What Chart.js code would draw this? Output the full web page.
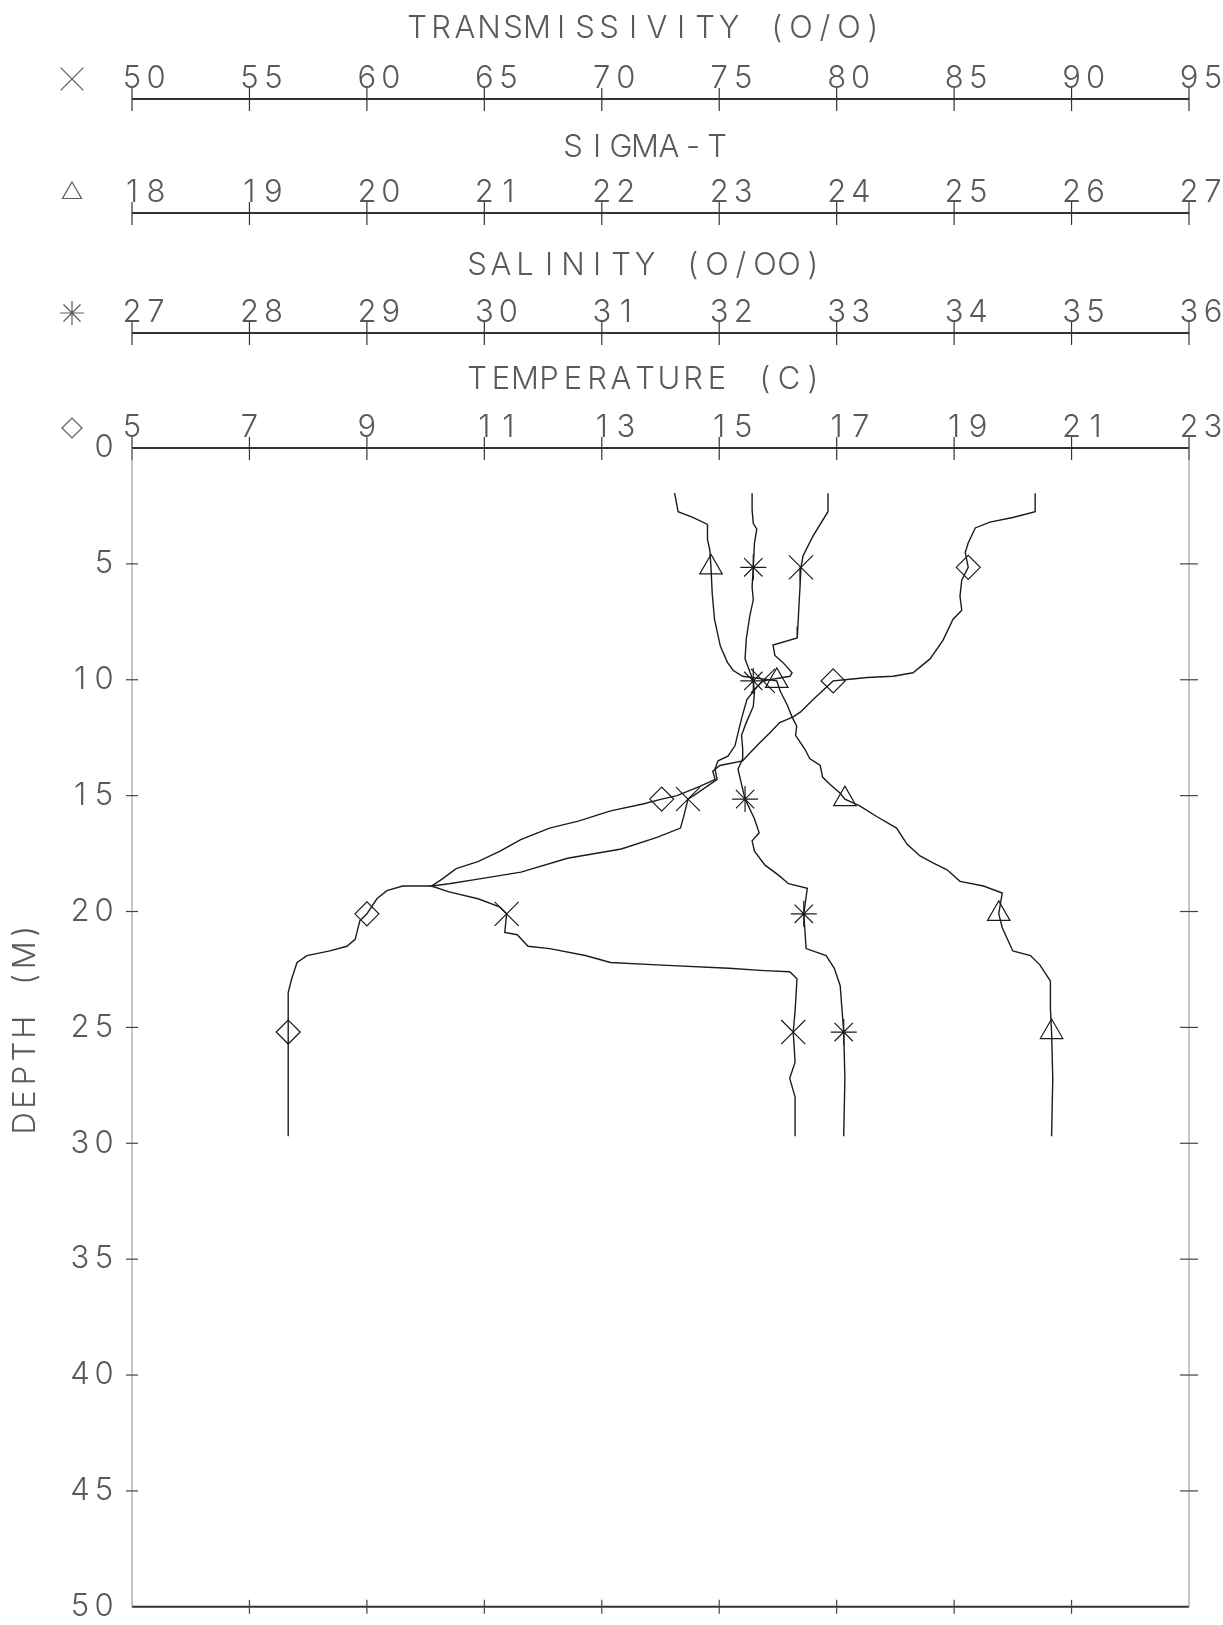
<!DOCTYPE html>
<html>
<head>
<meta charset="utf-8" />
<script src="https://cdn.jsdelivr.net/npm/chart.js"></script>
<style>
  body { margin: 0; background: #fff; }
  canvas { display: block; }
</style>
</head>
<body>
<canvas id="ctdChart" width="1223" height="1625"></canvas>
<script>
// tick values of the four stacked top scales and the depth scale
const transTicks = [50, 55, 60, 65, 70, 75, 80, 85, 90, 95];
const sigmaTicks = [18, 19, 20, 21, 22, 23, 24, 25, 26, 27];
const salTicks = [27, 28, 29, 30, 31, 32, 33, 34, 35, 36];
const tempTicks = [5, 7, 9, 11, 13, 15, 17, 19, 21, 23];
const depthTicks = [0, 5, 10, 15, 20, 25, 30, 35, 40, 45, 50];

// depths where the plotter put a symbol
const markDepth = [5.15, 10.05, 15.15, 20.1, 25.2];

// temperature (C)
const tempDepth = [1.95, 2.75, 3.0, 3.2, 3.45, 4.1, 4.5, 5.15, 5.7, 6.4, 7.0, 7.4, 8.3, 9.1, 9.7, 9.85, 9.9, 10.0, 10.05,
  10.85, 11.4, 11.6, 11.85, 12.3, 12.85, 13.3, 13.5, 13.7, 13.95, 14.3, 14.6, 15.0, 15.15, 15.36, 15.66, 16.1, 16.4,
  16.9, 17.4, 17.85, 18.15, 18.6, 18.9, 18.9, 19.1, 19.45, 20.1, 20.4, 21.2, 21.5, 21.7, 21.9, 22.2, 22.9, 23.5, 25.2, 29.7];
const tempVal = [20.38, 20.38, 20.0, 19.61, 19.36, 19.24, 19.19, 19.24, 19.13, 19.10, 19.13, 18.98, 18.81, 18.59, 18.30, 17.96, 17.52, 17.14, 16.94,
  16.60, 16.38, 16.26, 16.03, 15.86, 15.64, 15.47, 15.40, 15.01, 14.89, 14.93, 14.67, 14.28, 14.02, 13.70, 13.15, 12.60, 12.11,
  11.62, 11.26, 10.89, 10.52, 10.28, 10.10, 9.61, 9.34, 9.17, 9.00, 8.88, 8.80, 8.66, 8.37, 7.98, 7.81, 7.72, 7.66, 7.66, 7.66];
const tempMarks = [19.24, 16.94, 14.02, 9.00, 7.66];

// transmissivity (%)
const transDepth = [1.95, 2.75, 3.8, 4.65, 5.15, 6.0, 6.7, 7.7, 8.2, 8.5, 8.95, 9.25, 9.7, 9.85, 10.05, 10.3, 10.85, 11.6,
  12.3, 12.85, 13.3, 13.5, 13.85, 14.3, 14.6, 14.9, 15.15, 15.85, 16.4, 16.8, 17.3, 17.7, 18.3, 18.6, 18.8, 18.9, 19.15,
  19.45, 19.8, 20.1, 20.9, 21.0, 21.5, 21.6, 21.9, 22.2, 22.3, 22.45, 22.55, 22.6, 22.9, 24.3, 25.2, 26.5, 27.2, 28.0, 29.7];
const transVal = [79.63, 79.63, 78.99, 78.57, 78.48, 78.44, 78.40, 78.35, 78.32, 77.29, 77.37, 77.71, 78.10, 78.01, 76.86, 76.61, 76.18, 75.97,
  75.80, 75.67, 75.37, 74.95, 74.82, 74.91, 74.48, 74.05, 73.67, 73.50, 73.35, 72.35, 70.83, 68.54, 66.56, 64.73, 63.50, 62.74, 63.50,
  64.73, 65.65, 65.95, 65.87, 66.40, 66.86, 67.78, 69.30, 70.37, 72.35, 75.41, 76.93, 78.00, 78.31, 78.23, 78.15, 78.23, 78.00, 78.23, 78.23];
const transMarks = [78.48, 76.86, 73.67, 65.95, 78.15];

// salinity (o/oo)
const salDepth = [1.95, 2.67, 3.25, 3.5, 4.1, 5.15, 6.0, 6.55, 7.25, 8.25, 9.1, 10.05, 10.55, 11.15, 11.85, 12.4, 13.0, 13.4,
  13.85, 14.3, 15.15, 16.0, 16.6, 16.95, 17.4, 18.0, 18.45, 18.8, 19.0, 20.1, 21.6, 21.9, 22.45, 23.2, 25.2, 27.2, 29.7];
const salVal = [32.28, 32.28, 32.29, 32.32, 32.30, 32.29, 32.28, 32.29, 32.26, 32.23, 32.22, 32.29, 32.30, 32.29, 32.23, 32.19, 32.20, 32.20,
  32.16, 32.18, 32.22, 32.30, 32.34, 32.28, 32.30, 32.39, 32.51, 32.59, 32.75, 32.72, 32.74, 32.91, 32.98, 33.03, 33.06, 33.07, 33.06];
const salMarks = [32.29, 32.29, 32.22, 32.72, 33.06];

// sigma-t
const sigmaDepth = [1.95, 2.75, 3.0, 3.3, 3.96, 4.4, 5.15, 6.25, 7.4, 8.56, 9.25, 9.6, 9.85, 10.05, 10.5, 11.1, 11.6, 12.0,
  12.4, 12.7, 13.0, 13.4, 13.7, 14.2, 14.5, 14.9, 15.15, 15.45, 15.9, 16.4, 17.1, 17.6, 17.9, 18.2, 18.7, 18.9, 19.2,
  20.1, 20.7, 21.7, 21.9, 22.3, 23.0, 24.2, 25.2, 27.2, 29.7];
const sigmaVal = [22.62, 22.65, 22.78, 22.90, 22.90, 22.92, 22.93, 22.94, 22.96, 23.01, 23.07, 23.12, 23.20, 23.49, 23.52, 23.58, 23.62, 23.66,
  23.65, 23.69, 23.73, 23.77, 23.86, 23.88, 23.94, 24.03, 24.07, 24.20, 24.34, 24.51, 24.60, 24.71, 24.82, 24.94, 25.05, 25.25, 25.41,
  25.38, 25.41, 25.50, 25.65, 25.73, 25.82, 25.82, 25.83, 25.84, 25.83];
const sigmaMarks = [22.93, 23.49, 24.07, 25.38, 25.83];

const INK = "#1c1c1c";
const TEXT = "#5a5a5a";
const FONT = '300 31px Inter, "DejaVu Sans", sans-serif';
const PITCH = 24;

function pts(depths, vals) {
  return depths.map((d, i) => ({ x: vals[i], y: d }));
}

function profile(label, axis, depths, vals) {
  return {
    label: label, xAxisID: axis, data: pts(depths, vals),
    showLine: true, borderColor: INK, borderWidth: 1.4, pointRadius: 0, tension: 0
  };
}

function marks(label, axis, vals, style, r) {
  return {
    label: label + " marks", xAxisID: axis, data: pts(markDepth, vals),
    showLine: false, pointStyle: style, pointRadius: r,
    pointBorderColor: INK, pointBackgroundColor: "rgba(0,0,0,0)", pointBorderWidth: 1.2
  };
}

// plotter style lettering: one glyph per fixed pitch
function spaced(ctx, str, x, y) {
  for (let i = 0; i < str.length; i++) ctx.fillText(str[i], x + i * PITCH, y);
}
function centered(ctx, str, cx, y) {
  spaced(ctx, str, cx - (str.length - 1) * PITCH / 2, y);
}
function seg(ctx, x1, y1, x2, y2) {
  ctx.beginPath(); ctx.moveTo(x1, y1); ctx.lineTo(x2, y2); ctx.stroke();
}
function symbol(ctx, style, r, x, y) {
  ctx.save();
  ctx.strokeStyle = TEXT; ctx.fillStyle = "rgba(0,0,0,0)"; ctx.lineWidth = 1.2;
  Chart.helpers.drawPoint(ctx, { pointStyle: style, radius: r, rotation: 0, borderWidth: 1.2 }, x, y);
  ctx.restore();
}

const frame = {
  id: "frame",
  afterDraw(chart) {
    const ctx = chart.ctx;
    const a = chart.chartArea;
    const ys = chart.scales.y;
    const tops = [
      { id: "xTrans", ticks: transTicks, line: 99, title: "TRANSMISSIVITY (O/O)", titleY: 29, sym: "crossRot", r: 16 },
      { id: "xSigma", ticks: sigmaTicks, line: 213, title: "SIGMA-T", titleY: 148, sym: "triangle", r: 11 },
      { id: "xSal", ticks: salTicks, line: 333, title: "SALINITY (O/OO)", titleY: 266, sym: "star", r: 12 },
      { id: "xTemp", ticks: tempTicks, line: a.top, title: "TEMPERATURE (C)", titleY: 380, sym: "rectRot", r: 10 }
    ];

    ctx.save();
    ctx.font = FONT;
    ctx.textAlign = "center";
    ctx.textBaseline = "middle";
    ctx.fillStyle = TEXT;

    tops.forEach((t) => {
      const sc = chart.scales[t.id];
      ctx.strokeStyle = "#333";
      ctx.lineWidth = 2;
      seg(ctx, a.left, t.line, a.right, t.line);
      ctx.lineWidth = 1.2;
      t.ticks.forEach((v) => {
        const px = sc.getPixelForValue(v);
        seg(ctx, px, t.line - 11, px, t.line + 12);
        spaced(ctx, String(v), px, t.line - 20);
      });
      centered(ctx, t.title, 645, t.titleY);
      symbol(ctx, t.sym, t.r, 72, t.line - 20);
    });

    // frame: dark bottom, light sides
    ctx.strokeStyle = "#333";
    ctx.lineWidth = 2;
    seg(ctx, a.left, a.bottom, a.right, a.bottom);
    ctx.strokeStyle = "#8a8a8a";
    ctx.lineWidth = 1;
    seg(ctx, a.left, a.top, a.left, a.bottom);
    seg(ctx, a.right, a.top, a.right, a.bottom);

    const xt = chart.scales.xTemp;
    ctx.strokeStyle = "#444";
    ctx.lineWidth = 1.2;
    tempTicks.slice(1, -1).forEach((v) => {
      const px = xt.getPixelForValue(v);
      seg(ctx, px, a.bottom - 7, px, a.bottom + 7);
    });

    depthTicks.forEach((d) => {
      const py = ys.getPixelForValue(d);
      if (d > 0 && d < 50) {
        seg(ctx, a.left - 6, py, a.left + 6, py);
        seg(ctx, a.right - 9, py, a.right + 9, py);
      }
      const s = String(d);
      spaced(ctx, s, 104 - (s.length - 1) * PITCH, py);
    });

    // depth title, read bottom to top
    ctx.translate(26, (a.top + a.bottom) / 2);
    ctx.rotate(-Math.PI / 2);
    centered(ctx, "DEPTH (M)", 0, 0);
    ctx.restore();
  }
};

new Chart(document.getElementById("ctdChart"), {
  type: "scatter",
  data: {
    datasets: [
      profile("Temperature", "xTemp", tempDepth, tempVal),
      profile("Transmissivity", "xTrans", transDepth, transVal),
      profile("Salinity", "xSal", salDepth, salVal),
      profile("Sigma-T", "xSigma", sigmaDepth, sigmaVal),
      marks("Temperature", "xTemp", tempMarks, "rectRot", 12),
      marks("Transmissivity", "xTrans", transMarks, "crossRot", 17),
      marks("Salinity", "xSal", salMarks, "star", 13),
      marks("Sigma-T", "xSigma", sigmaMarks, "triangle", 13)
    ]
  },
  options: {
    responsive: false,
    animation: false,
    layout: { padding: { left: 132, right: 34, top: 448, bottom: 15 } },
    plugins: { legend: { display: false }, tooltip: { enabled: false } },
    scales: {
      y: { type: "linear", min: 0, max: 50, reverse: true, display: false },
      xTemp: { type: "linear", axis: "x", min: 5, max: 23, display: false },
      xTrans: { type: "linear", axis: "x", min: 50, max: 95, display: false },
      xSal: { type: "linear", axis: "x", min: 27, max: 36, display: false },
      xSigma: { type: "linear", axis: "x", min: 18, max: 27, display: false }
    }
  },
  plugins: [frame]
});
</script>
</body>
</html>
